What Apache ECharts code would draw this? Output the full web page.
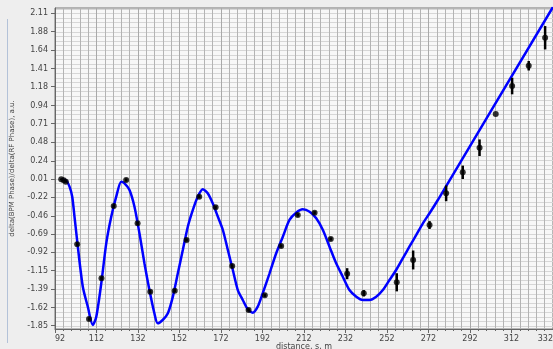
<!DOCTYPE html>
<html>
<head>
<meta charset="utf-8">
<script src="https://cdn.jsdelivr.net/npm/echarts@6/dist/echarts.min.js"></script>
<style>
  html, body { margin: 0; padding: 0; background: #eeeeee; }
  #chart { width: 553px; height: 349px; }
</style>
</head>
<body>
<div id="chart"></div>
<script>
// Measured BPM phase response (distance in m, response in a.u., error half-width)
const measX = [95.0, 96.2, 97.2, 102.7, 108.4, 114.4, 120.3, 126.3, 131.8, 137.9,
  149.7, 155.4, 161.5, 169.4, 177.4, 185.3, 193.1, 201.0, 209.0, 217.1,
  224.9, 232.8, 240.8, 256.7, 264.6, 272.5, 280.5, 288.5, 296.6, 304.4,
  312.3, 320.3, 328.2];
const measY = [0.005, -0.007, -0.025, -0.817, -1.765, -1.248, -0.333, -0.003, -0.552, -1.419,
  -1.406, -0.764, -0.215, -0.349, -1.093, -1.651, -1.465, -0.840, -0.447, -0.418,
  -0.751, -1.191, -1.439, -1.300, -1.017, -0.574, -0.172, 0.094, 0.406, 0.833,
  1.188, 1.445, 1.800];
const measErr = [0.01, 0.01, 0.01, 0.02, 0.02, 0.02, 0.02, 0.02, 0.02, 0.02,
  0.02, 0.02, 0.02, 0.02, 0.02, 0.02, 0.02, 0.02, 0.02, 0.02,
  0.02, 0.07, 0.04, 0.115, 0.12, 0.05, 0.10, 0.085, 0.105, 0.0,
  0.105, 0.06, 0.148];

// Model response curve
const fitX = [95.1, 97.4, 99.0, 100.3, 101.4, 103.0, 105.4, 107.8, 110.2, 111.9,
  114.3, 116.7, 119.1, 121.5, 123.9, 125.5, 127.9, 130.3, 132.7, 135.1,
  137.5, 139.9, 141.5, 143.9, 146.4, 148.8, 151.2, 153.6, 156.0, 158.4,
  160.8, 163.2, 165.6, 168.0, 170.5, 172.9, 175.3, 177.7, 180.1, 182.5,
  184.9, 187.3, 189.7, 192.1, 195.4, 198.6, 201.8, 205.0, 208.2, 211.4,
  214.7, 217.9, 221.1, 224.3, 227.5, 230.7, 233.9, 237.2, 240.3, 243.6,
  246.8, 250.0, 253.2, 256.4, 259.6, 262.8, 266.1, 269.3, 272.5, 276.5, 332.0];
const fitY = [0.005, -0.012, -0.088, -0.215, -0.469, -0.849, -1.356, -1.609, -1.841, -1.736,
  -1.313, -0.806, -0.469, -0.215, -0.025, -0.045, -0.130, -0.342, -0.679, -1.059,
  -1.398, -1.693, -1.820, -1.778, -1.693, -1.482, -1.186, -0.891, -0.595, -0.384,
  -0.215, -0.121, -0.172, -0.299, -0.469, -0.637, -0.891, -1.144, -1.398, -1.524,
  -1.642, -1.685, -1.609, -1.439, -1.186, -0.932, -0.722, -0.510, -0.418, -0.375,
  -0.405, -0.489, -0.637, -0.849, -1.059, -1.229, -1.398, -1.482, -1.524, -1.524,
  -1.482, -1.398, -1.271, -1.144, -0.996, -0.849, -0.700, -0.552, -0.425, -0.257, 2.19];

// Axis tick labels
const xTickLabels = [92, 112, 132, 152, 172, 192, 212, 232, 252, 272, 292, 312, 332];
const yTickLabels = [-1.85, -1.62, -1.39, -1.15, -0.92, -0.69, -0.46, -0.22, 0.01,
  0.24, 0.48, 0.71, 0.94, 1.18, 1.41, 1.64, 1.88, 2.11];

// Horizontal grid: major tick spacing split in four
const yMin = -1.892, yMax = 2.177;
const yGridStart = -1.8535, yGridStep = 0.23305 / 4;
const yGrid = [];
for (let v = yGridStart; v <= yMax; v += yGridStep) yGrid.push(+v.toFixed(5));

const font = 'DejaVu Sans';
const chart = echarts.init(document.getElementById('chart'), null, { renderer: 'canvas' });

chart.setOption({
  backgroundColor: '#eeeeee',
  animation: false,
  textStyle: { fontFamily: font },
  graphic: [{
    type: 'line',
    shape: { x1: 7.5, y1: 19, x2: 7.5, y2: 343 },
    style: { stroke: '#b3c2d8', lineWidth: 1 },
    silent: true
  }],
  grid: {
    left: 55, top: 8, width: 498, height: 321,
    outerBoundsMode: 'none',
    containLabel: false,
    show: true, backgroundColor: '#f7f7f7',
    borderColor: '#777777', borderWidth: 1
  },
  xAxis: {
    type: 'value',
    min: xTickLabels[0], max: xTickLabels[xTickLabels.length - 1], interval: 20,
    name: 'distance, s, m',
    nameLocation: 'middle', nameGap: 14, nameMoveOverlap: false,
    nameTextStyle: { fontFamily: font, fontSize: 8, color: '#444', verticalAlign: 'top' },
    axisLine: { onZero: false, lineStyle: { color: '#666666', width: 1 } },
    axisTick: { length: 4, lineStyle: { color: '#666666' } },
    minorTick: { show: true, splitNumber: 5, length: 2, lineStyle: { color: '#666666' } },
    axisLabel: {
      fontFamily: font, fontSize: 8, color: '#444', margin: 6,
      showMinLabel: true, showMaxLabel: true,
      alignMinLabel: 'left', alignMaxLabel: 'right'
    },
    splitLine: { show: true, lineStyle: { color: '#a9a9a9', width: 1 } },
    minorSplitLine: { show: true, lineStyle: { color: '#b3b3b3', width: 1 } }
  },
  yAxis: [{
    type: 'value',
    min: yMin, max: yMax,
    name: 'delta(BPM Phase)/delta(RF Phase), a.u.',
    nameLocation: 'middle', nameGap: 39, nameRotate: 90, nameMoveOverlap: false,
    nameTextStyle: { fontFamily: font, fontSize: 7, color: '#444' },
    axisLine: { show: true, onZero: false, lineStyle: { color: '#666666', width: 1 } },
    axisTick: { show: true, length: 4, customValues: yTickLabels, lineStyle: { color: '#666666' } },
    axisLabel: {
      fontFamily: font, fontSize: 8, color: '#444', margin: 7,
      customValues: yTickLabels,
      formatter: v => v.toFixed(2)
    },
    splitLine: { show: false }
  }, {
    type: 'value',
    min: yMin, max: yMax,
    position: 'left',
    axisLine: { show: false, onZero: false },
    axisTick: { show: false, customValues: yGrid },
    axisLabel: { show: false },
    splitLine: { show: true, lineStyle: { color: '#d6d6d6', width: 1 } }
  }],
  series: [{
    type: 'line',
    data: fitX.map((x, i) => [x, fitY[i]]),
    showSymbol: false,
    smooth: 0.25,
    clip: true,
    lineStyle: { color: '#0000ff', width: 2.5 },
    z: 3
  }, {
    type: 'custom',
    data: measX.map((x, i) => [x, measY[i], measErr[i]]),
    renderItem: (params, api) => {
      const x = api.value(0), y = api.value(1), e = api.value(2);
      const p1 = api.coord([x, y - e]);
      const p2 = api.coord([x, y + e]);
      return {
        type: 'line',
        shape: { x1: p1[0], y1: p1[1], x2: p2[0], y2: p2[1] },
        style: { stroke: '#000000', lineWidth: 2.5 }
      };
    },
    z: 4
  }, {
    type: 'scatter',
    data: measX.map((x, i) => [x, measY[i]]),
    symbol: 'circle',
    symbolSize: 6,
    itemStyle: { color: '#000000' },
    z: 5
  }]
});
</script>
</body>
</html>
